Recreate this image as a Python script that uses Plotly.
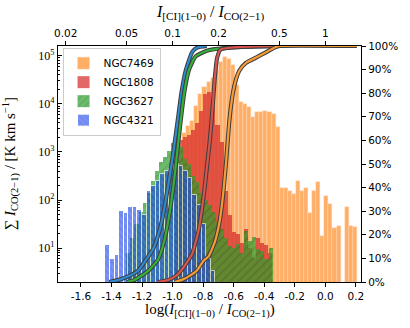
import numpy as np
import plotly.graph_objects as go

# ---------------- histogram data (summed I_CO(2-1) per bin) ----------------
BIN_W = 0.0266
N7469_START = -0.937
N7469 = [2500, 3500, 4500, 8900, 16000, 22000, 28000, 35000, 50000, 74000,
         95000, 85000, 63000, 25000, 11000, 10000, 8500, 5200, 6600, 6900,
         7100, 6600, 6000, 3300, 182, 182, 158, 132, 251, 155,
         182, 55, 155, 234, 18, 123, 83, 27, 29, 0,
         71, 29, 28]
N1808_START = -0.985
N1808 = [1260, 1780, 2000, 2240, 2820, 3980, 7080, 15850, 17780, 8910,
         3550, 1585, 158, 50, 22, 20, 12.6, 25, 10, 6.3,
         16, 12.6, 11.7, 8]
N3627_START = -1.3026
N3627 = [8, 16, 32, 56, 89, 141, 251, 398, 631, 794,
         1047, 1514, 1585, 1259, 708, 562, 316, 240, 141, 100,
         79, 56, 35, 25, 16, 11, 10, 12, 8, 23,
         14, 17, 9.5, 8.7, 5.9, 10]
N4321_START = -1.44
N4321_W = 0.03
N4321 = [11.5, 5.9, 7.2, 60, 55, 71, 71, 63, 50, 158,
         200, 251, 355, 398, 447, 562, 501, 398, 282, 126,
         79, 32, 5.9, 3.4]

# ---------------- cumulative fractions (%) ----------------
CUM4321_X = [-1.4145, -1.363, -1.287, -1.223, -1.178, -1.127, -1.089, -1.063, -1.031,
             -0.999, -0.967, -0.942, -0.916, -0.892, -0.871, -0.839, -0.776]
CUM4321_P = [0, 0.7, 2.5, 5, 9, 14, 21, 28, 40, 53, 68, 80, 89, 94, 97.5, 99.3, 100]
CUM3627_X = [-1.2995, -1.255, -1.223, -1.159, -1.095, -1.052, -1.020, -0.988, -0.956,
             -0.924, -0.892, -0.850, -0.776, -0.648, -0.309]
CUM3627_P = [0, 0.7, 1.9, 4.7, 9.5, 18, 29, 44, 63, 80, 90, 95.5, 98, 99.2, 100]
CUM1808_X = [-1.095, -1.031, -0.980, -0.942, -0.903, -0.871, -0.829, -0.797, -0.776,
             -0.756, -0.740, -0.724, -0.708, -0.686, -0.584, -0.297]
CUM1808_P = [0, 0.8, 2.5, 5, 8.5, 12, 22, 36, 48, 60, 72, 86, 95, 98.5, 99.5, 100]
CUM7469_X = [-0.986, -0.935, -0.891, -0.839, -0.797, -0.763, -0.723, -0.691, -0.669,
             -0.648, -0.627, -0.605, -0.584, -0.563, -0.520, -0.456, -0.392, -0.328,
             -0.297, 0.207]
CUM7469_P = [0, 1, 2.5, 5, 9, 11, 17, 26, 37, 52, 69, 80, 86, 89.5, 92.8, 95, 97.2,
             99.5, 100, 100]

# ---------------- axis ticks ----------------
X_TICKS = [-1.6, -1.4, -1.2, -1.0, -0.8, -0.6, -0.4, -0.2, 0.0, 0.2]
X_TICKTEXT = ["-1.6", "-1.4", "-1.2", "-1.0", "-0.8", "-0.6", "-0.4", "-0.2", "0.0", "0.2"]
TOP_RATIOS = [0.02, 0.05, 0.1, 0.2, 0.5, 1]
TOP_TICKTEXT = ["0.02", "0.05", "0.1", "0.2", "0.5", "1"]
Y_TICKS = [10, 100, 1000, 10000, 100000]
Y_TICKTEXT = ["10<sup>1</sup>", "10<sup>2</sup>", "10<sup>3</sup>", "10<sup>4</sup>", "10<sup>5</sup>"]
PCT_TICKS = list(range(0, 101, 10))
PCT_TICKTEXT = [f"{p}%" for p in PCT_TICKS]

X_RANGE = [-1.75, 0.234]

fig = go.Figure()


def centers(start, w, n):
    return start + w * (np.arange(n) + 0.5)


fig.add_trace(go.Bar(x=centers(N7469_START, BIN_W, len(N7469)), y=N7469, width=BIN_W,
                     name="NGC7469", marker=dict(color="#ff7f0e", line=dict(width=0.4, color="#ffc79a")),
                     opacity=0.63))
fig.add_trace(go.Bar(x=centers(N1808_START, BIN_W, len(N1808)), y=N1808, width=BIN_W,
                     name="NGC1808", marker=dict(color="#d62728", line=dict(width=0)),
                     opacity=0.7))
fig.add_trace(go.Bar(x=centers(N3627_START, BIN_W, len(N3627)), y=N3627, width=BIN_W,
                     name="NGC3627",
                     marker=dict(color="#2ca02c", line=dict(width=0),
                                 pattern=dict(shape="/", size=6, solidity=0.22,
                                              fgcolor="#145c14", bgcolor="#2ca02c")),
                     opacity=0.7))
fig.add_trace(go.Bar(x=centers(N4321_START, N4321_W, len(N4321)), y=N4321, width=N4321_W,
                     name="NGC4321",
                     marker=dict(color="#2450f5", line=dict(width=1.0, color="white"),
                                 pattern=dict(shape="\\", size=5, solidity=0.25,
                                              fgcolor="#08189a", bgcolor="#2450f5")),
                     opacity=0.62))

for xs, ps, col in [(CUM4321_X, CUM4321_P, "#2f8ad0"),
                    (CUM3627_X, CUM3627_P, "#35b03a"),
                    (CUM1808_X, CUM1808_P, "#d9544d"),
                    (CUM7469_X, CUM7469_P, "#f99b34")]:
    fig.add_trace(go.Scatter(x=xs, y=ps, xaxis="x2", yaxis="y2", mode="lines",
                             line=dict(color="#3d3d3d", width=4.2, shape="spline", smoothing=0.5),
                             showlegend=False, hoverinfo="skip"))
    fig.add_trace(go.Scatter(x=xs, y=ps, xaxis="x2", yaxis="y2", mode="lines",
                             line=dict(color=col, width=2.2, shape="spline", smoothing=0.5),
                             showlegend=False, hoverinfo="skip"))

minor_vals = [m * 10 ** k for k in range(0, 6) for m in range(2, 10)]

tickfont = dict(family="DejaVu Sans", size=10.5, color="black")
serif = "Liberation Serif"

fig.update_layout(
    width=410, height=328,
    margin=dict(l=58, r=42, t=46, b=46),
    paper_bgcolor="white", plot_bgcolor="white",
    barmode="overlay", bargap=0,
    showlegend=True,
    legend=dict(x=0.015, y=0.993, xanchor="left", yanchor="top",
                bgcolor="rgba(255,255,255,0.85)", bordercolor="#cccccc", borderwidth=1,
                font=dict(family="DejaVu Sans", size=10.5, color="black"),
                tracegroupgap=0, itemwidth=30),
    xaxis=dict(range=X_RANGE, tickvals=X_TICKS, ticktext=X_TICKTEXT, ticks="outside",
               ticklen=4, tickcolor="black", showline=True, linecolor="black", linewidth=1.2,
               showgrid=False, zeroline=False, tickfont=tickfont),
    xaxis2=dict(range=X_RANGE, overlaying="x", side="top",
                tickvals=[float(np.log10(r)) for r in TOP_RATIOS], ticktext=TOP_TICKTEXT,
                ticks="outside", ticklen=4, tickcolor="black", showline=True, linecolor="black",
                linewidth=1.2, showgrid=False, zeroline=False, tickfont=tickfont),
    yaxis=dict(type="log", range=[0.30, 5.20], tickvals=Y_TICKS, ticktext=Y_TICKTEXT,
               ticks="inside", ticklen=4, tickcolor="black", showline=True, linecolor="black",
               linewidth=1.2, showgrid=False, zeroline=False,
               tickfont=dict(family=serif, size=12, color="black"),
               minor=dict(tickvals=minor_vals, ticks="inside", ticklen=2, tickcolor="black",
                          showgrid=False)),
    yaxis2=dict(range=[0, 100], overlaying="y", side="right", tickvals=PCT_TICKS,
                ticktext=PCT_TICKTEXT, ticks="outside", ticklen=4, tickcolor="black",
                showline=True, linecolor="black", linewidth=1.2, showgrid=False,
                zeroline=False, tickfont=tickfont),
    annotations=[
        dict(text="log(<i>I</i><sub>[CI](1\u22120)</sub> / <i>I</i><sub>CO(2\u22121)</sub>)",
             xref="paper", yref="paper", x=0.5, y=-0.12, xanchor="center", yanchor="middle",
             showarrow=False, font=dict(family=serif, size=15, color="black")),
        dict(text="<i>I</i><sub>[CI](1\u22120)</sub> / <i>I</i><sub>CO(2\u22121)</sub>",
             xref="paper", yref="paper", x=0.5, y=1.14, xanchor="center", yanchor="middle",
             showarrow=False, font=dict(family=serif, size=16, color="black")),
        dict(text="\u2211 <i>I</i><sub>CO(2\u22121)</sub> / [K km s<sup>\u22121</sup>]",
             xref="paper", yref="paper", x=-0.16, y=0.5, xanchor="center", yanchor="middle",
             textangle=-90, showarrow=False, font=dict(family=serif, size=15, color="black")),
    ],
)

fig.write_html("out.html", config={"displayModeBar": False},
               post_script="document.body.style.margin='0';document.body.style.padding='0';")
